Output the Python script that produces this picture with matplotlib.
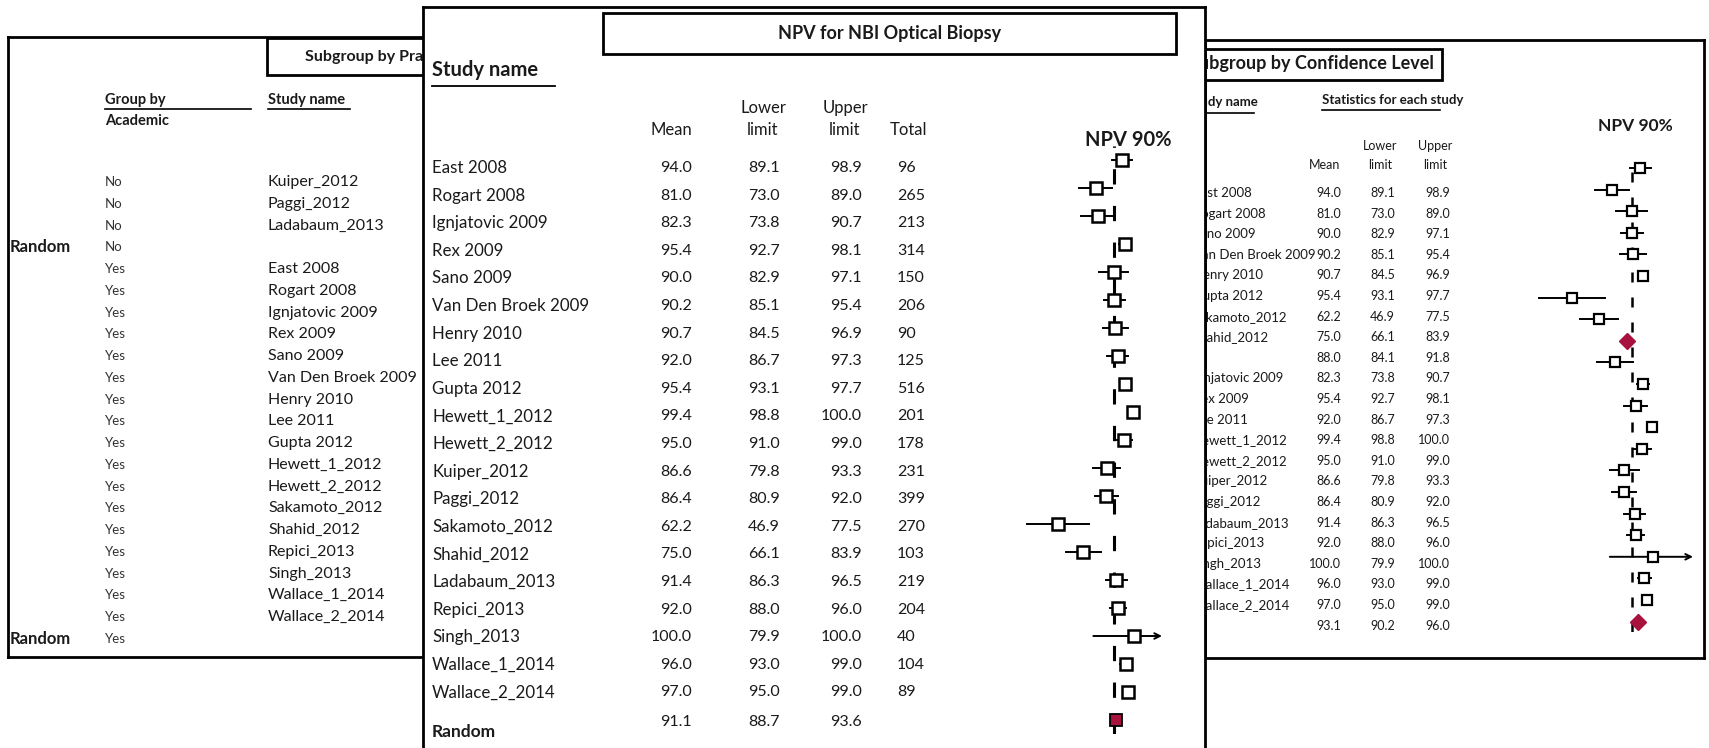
import matplotlib.pyplot as plt
from matplotlib.patches import Rectangle

plt.rcParams['font.family'] = ['Lato', 'DejaVu Sans']

W, H = 1709, 748
RED = '#a8123e'
INK = '#1a1a1a'

# --- centre panel: all studies ---
studies = ['East 2008', 'Rogart 2008', 'Ignjatovic 2009', 'Rex 2009', 'Sano 2009',
           'Van Den Broek 2009', 'Henry 2010', 'Lee 2011', 'Gupta 2012', 'Hewett_1_2012',
           'Hewett_2_2012', 'Kuiper_2012', 'Paggi_2012', 'Sakamoto_2012', 'Shahid_2012',
           'Ladabaum_2013', 'Repici_2013', 'Singh_2013', 'Wallace_1_2014', 'Wallace_2_2014']
mean = [94.0, 81.0, 82.3, 95.4, 90.0, 90.2, 90.7, 92.0, 95.4, 99.4,
        95.0, 86.6, 86.4, 62.2, 75.0, 91.4, 92.0, 100.0, 96.0, 97.0]
lower = [89.1, 73.0, 73.8, 92.7, 82.9, 85.1, 84.5, 86.7, 93.1, 98.8,
         91.0, 79.8, 80.9, 46.9, 66.1, 86.3, 88.0, 79.9, 93.0, 95.0]
upper = [98.9, 89.0, 90.7, 98.1, 97.1, 95.4, 96.9, 97.3, 97.7, 100.0,
         99.0, 93.3, 92.0, 77.5, 83.9, 96.5, 96.0, 100.0, 99.0, 99.0]
total = [96, 265, 213, 314, 150, 206, 90, 125, 516, 201,
         178, 231, 399, 270, 103, 219, 204, 40, 104, 89]
pooled = [91.1, 88.7, 93.6]
arrow_studies = ['Singh_2013']
ref_npv = 90

# --- left panel: subgroup by academic ---
acad_names = ['Kuiper_2012', 'Paggi_2012', 'Ladabaum_2013', '', 'East 2008', 'Rogart 2008',
              'Ignjatovic 2009', 'Rex 2009', 'Sano 2009', 'Van Den Broek 2009', 'Henry 2010',
              'Lee 2011', 'Gupta 2012', 'Hewett_1_2012', 'Hewett_2_2012', 'Sakamoto_2012',
              'Shahid_2012', 'Repici_2013', 'Singh_2013', 'Wallace_1_2014', 'Wallace_2_2014', '']
acad_group = ['No'] * 4 + ['Yes'] * 18

# --- right panel: subgroup by confidence level ---
conf_names = ['East 2008', 'Rogart 2008', 'Sano 2009', 'Van Den Broek 2009', 'Henry 2010',
              'Gupta 2012', 'Sakamoto_2012', 'Shahid_2012', '', 'Ignjatovic 2009', 'Rex 2009',
              'Lee 2011', 'Hewett_1_2012', 'Hewett_2_2012', 'Kuiper_2012', 'Paggi_2012',
              'Ladabaum_2013', 'Repici_2013', 'Singh_2013', 'Wallace_1_2014', 'Wallace_2_2014', '']
conf_mean = [94.0, 81.0, 90.0, 90.2, 90.7, 95.4, 62.2, 75.0, 88.0, 82.3, 95.4,
             92.0, 99.4, 95.0, 86.6, 86.4, 91.4, 92.0, 100.0, 96.0, 97.0, 93.1]
conf_lower = [89.1, 73.0, 82.9, 85.1, 84.5, 93.1, 46.9, 66.1, 84.1, 73.8, 92.7,
              86.7, 98.8, 91.0, 79.8, 80.9, 86.3, 88.0, 79.9, 93.0, 95.0, 90.2]
conf_upper = [98.9, 89.0, 97.1, 95.4, 96.9, 97.7, 77.5, 83.9, 91.8, 90.7, 98.1,
              97.3, 100.0, 99.0, 93.3, 92.0, 96.5, 96.0, 100.0, 99.0, 99.0, 96.0]

fig = plt.figure(figsize=(W / 100, H / 100), dpi=100)


def panel(x0, y0, x1, y1, z):
    # axes whose data coords are figure pixels (y downwards)
    ax = fig.add_axes([x0 / W, 1 - y1 / H, (x1 - x0) / W, (y1 - y0) / H], zorder=z)
    ax.set_xlim(x0, x1)
    ax.set_ylim(y1, y0)
    ax.set_xticks([])
    ax.set_yticks([])
    for s in ax.spines.values():
        s.set_linewidth(2)
    return ax


def forest(x0, x1, y0, y1, xlim, n, z):
    ax = fig.add_axes([x0 / W, 1 - y1 / H, (x1 - x0) / W, (y1 - y0) / H], zorder=z)
    ax.set_xlim(*xlim)
    ax.set_ylim(n - 0.5, -0.5)
    ax.axis('off')
    return ax


def txt(ax, x, y, s, size, bold=False, ha='left', color=INK):
    # clipped to its panel, so the part under the front panel is cut off
    ax.text(x, y, s, fontsize=size, fontweight='bold' if bold else 'normal',
            ha=ha, va='center', color=color, clip_on=True)


# ---------------- left panel (back) ----------------
axL = panel(8, 37, 424, 657, 1)
axL.add_patch(Rectangle((267, 38), 300, 37, fill=False, lw=2, ec='k'))
txt(axL, 305, 57, 'Subgroup by Pra', 11.5, bold=True)
txt(axL, 105, 100, 'Group by', 10.5, bold=True)
txt(axL, 105, 121, 'Academic', 10.5, bold=True)
axL.plot([105, 251], [109, 109], color='k', lw=1.2)
txt(axL, 268, 100, 'Study name', 10.5, bold=True)
axL.plot([268, 350], [109, 109], color='k', lw=1.2)
for i, (g, nm) in enumerate(zip(acad_group, acad_names)):
    y = 182 + i * 21.75
    txt(axL, 105, y, g, 9.5, color='#333333')
    txt(axL, 268, y, nm, 11.5)
    if nm == '':
        txt(axL, 10, y, 'Random', 12, bold=True)

# ---------------- right panel (back) ----------------
axR = panel(1205, 40, 1704, 658, 2)
axR.add_patch(Rectangle((1150, 49), 292, 31, fill=False, lw=2, ec='k'))
txt(axR, 1434, 64, 'Subgroup by Confidence Level', 13, bold=True, ha='right')
txt(axR, 1188, 102, 'Study name', 9.5, bold=True)
axR.plot([1188, 1254], [113, 113], color='k', lw=1.2)
txt(axR, 1322, 100, 'Statistics for each study', 9.5, bold=True)
axR.plot([1322, 1440], [110, 110], color='k', lw=1.2)
txt(axR, 1635, 126, 'NPV 90%', 12.5, bold=True, ha='center')
txt(axR, 1380, 146, 'Lower', 9, ha='center')
txt(axR, 1435, 146, 'Upper', 9, ha='center')
txt(axR, 1325, 165, 'Mean', 9, ha='center')
txt(axR, 1380, 165, 'limit', 9, ha='center')
txt(axR, 1435, 165, 'limit', 9, ha='center')
for i in range(len(conf_names)):
    y = 193 + i * 20.6
    txt(axR, 1193, y, conf_names[i], 9.5)
    txt(axR, 1341, y, '%.1f' % conf_mean[i], 9, ha='right')
    txt(axR, 1395, y, '%.1f' % conf_lower[i], 9, ha='right')
    txt(axR, 1450, y, '%.1f' % conf_upper[i], 9, ha='right')

fR = forest(1524, 1693, 157.2, 632.4, (40, 118.6), len(conf_names), 2.5)
fR.axvline(ref_npv, color='k', lw=1.8, dashes=(4, 6))
for i in range(len(conf_names)):
    if conf_names[i] == '':
        fR.plot(conf_mean[i], i, marker='D', ms=8.5, mfc=RED, mec=RED, zorder=4)
        continue
    if conf_mean[i] >= 100:
        fR.annotate('', xy=(fR.get_xlim()[1], i), xytext=(conf_lower[i], i),
                    arrowprops=dict(arrowstyle='->', lw=1.4, color='k', shrinkA=0, shrinkB=0))
    else:
        fR.plot([conf_lower[i], conf_upper[i]], [i, i], color='k', lw=1.4)
    fR.plot(conf_mean[i], i, marker='s', ms=6.5, mfc='white', mec='k', mew=1.6, zorder=4)

# ---------------- centre panel (front) ----------------
axC = panel(423, 7, 1205, 770, 3)
axC.add_patch(Rectangle((603, 13), 573, 41, fill=False, lw=2, ec='k'))
txt(axC, 890, 33, 'NPV for NBI Optical Biopsy', 13, bold=True, ha='center')
txt(axC, 432, 70, 'Study name', 14.5, bold=True)
axC.plot([432, 555], [86, 86], color='k', lw=1.3)
txt(axC, 692, 130, 'Mean', 12, ha='right')
txt(axC, 763, 108, 'Lower', 12, ha='center')
txt(axC, 763, 130, 'limit', 12, ha='center')
txt(axC, 845, 108, 'Upper', 12, ha='center')
txt(axC, 845, 130, 'limit', 12, ha='center')
txt(axC, 909, 130, 'Total', 12, ha='center')
txt(axC, 1128, 140, 'NPV 90%', 14.5, bold=True, ha='center')
for i in range(len(studies)):
    y = 168 + i * 27.6
    txt(axC, 432, y, studies[i], 12.2)
    txt(axC, 692, y, '%.1f' % mean[i], 11.5, ha='right')
    txt(axC, 780, y, '%.1f' % lower[i], 11.5, ha='right')
    txt(axC, 862, y, '%.1f' % upper[i], 11.5, ha='right')
    txt(axC, 897, y, str(total[i]), 11.5)
txt(axC, 432, 732, 'Random', 12.5, bold=True)
txt(axC, 692, 722, '%.1f' % pooled[0], 11.5, ha='right')
txt(axC, 780, 722, '%.1f' % pooled[1], 11.5, ha='right')
txt(axC, 862, 722, '%.1f' % pooled[2], 11.5, ha='right')

fC = forest(1013, 1162, 146, 734, (40, 114), len(studies) + 1, 3.5)
fC.axvline(ref_npv, color='k', lw=2.2, dashes=(5, 7))
for i in range(len(studies)):
    if studies[i] in arrow_studies:
        fC.annotate('', xy=(fC.get_xlim()[1], i), xytext=(lower[i], i),
                    arrowprops=dict(arrowstyle='->', lw=1.4, color='k', shrinkA=0, shrinkB=0))
    else:
        fC.plot([lower[i], upper[i]], [i, i], color='k', lw=1.4)
    fC.plot(mean[i], i, marker='s', ms=8, mfc='white', mec='k', mew=1.8, zorder=4)
fC.plot(pooled[0], len(studies), marker='s', ms=8.5, mfc=RED, mec='k', mew=1.3, zorder=4)

fig.savefig('out.png', dpi=100, facecolor='white')
